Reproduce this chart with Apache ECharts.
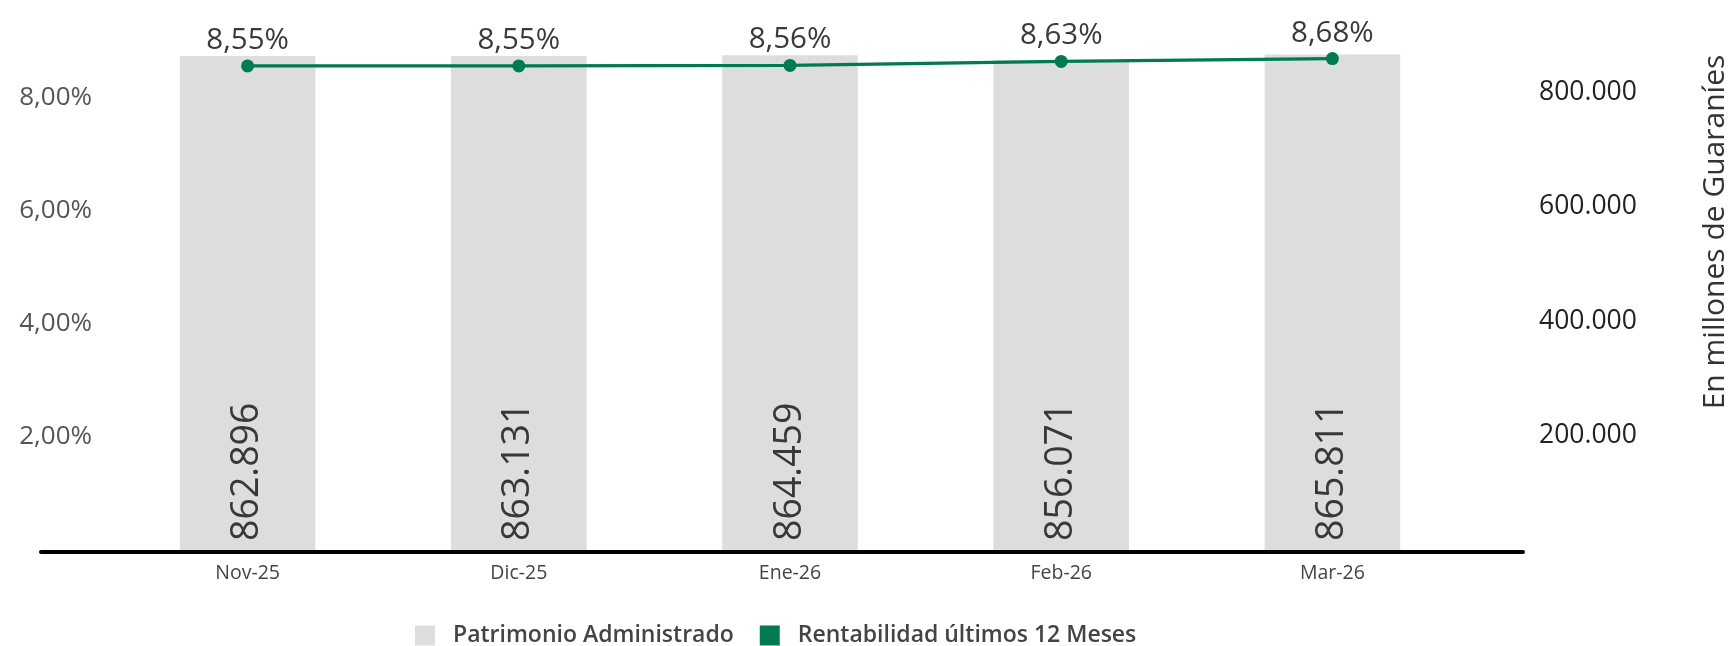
<!DOCTYPE html>
<html>
<head>
<meta charset="utf-8">
<script src="https://cdn.jsdelivr.net/npm/echarts@6/dist/echarts.min.js"></script>
<style>
html,body{margin:0;padding:0;background:#fff;}
#c{width:1732px;height:646px;}
</style>
</head>
<body>
<div id="c"></div>
<script>
const categories = ['Nov-25', 'Dic-25', 'Ene-26', 'Feb-26', 'Mar-26'];
const patrimonio = [862896, 863131, 864459, 856071, 865811];
const rentabilidad = [8.55, 8.55, 8.56, 8.63, 8.68];
const seriesNames = ['Patrimonio Administrado', 'Rentabilidad últimos 12 Meses'];
const rightAxisName = 'En millones de Guaraníes';

const FONT = '"Open Sans", "Noto Sans", sans-serif';
const fmtPct = v => v.toFixed(2).replace('.', ',') + '%';
const fmtThousands = v => Math.round(v).toString().replace(/\B(?=(\d{3})+(?!\d))/g, '.');

const chart = echarts.init(document.getElementById('c'));
chart.setOption({
  animation: false,
  backgroundColor: '#ffffff',
  textStyle: { fontFamily: FONT },
  grid: [
    { left: 112, right: 264, top: 32, bottom: 96 },
    { left: 41, right: 209, top: 32, bottom: 94 }
  ],
  legend: {
    left: 410, top: 619,
    icon: 'rect', itemWidth: 20, itemHeight: 20, itemGap: 26,
    textStyle: { fontFamily: FONT, fontSize: 23, fontWeight: 600, color: '#444', padding: [0, 0, 0, 13] },
    data: seriesNames
  },
  xAxis: [
    {
      type: 'category', gridIndex: 0, data: categories,
      axisLine: { show: false }, axisTick: { show: false },
      axisLabel: { fontFamily: FONT, fontSize: 19.5, color: '#444', margin: 13 }
    },
    {
      type: 'value', gridIndex: 1, min: 0, max: 1,
      axisLine: { show: true, onZero: false, lineStyle: { color: '#000', width: 4 } },
      axisTick: { show: false }, axisLabel: { show: false }, splitLine: { show: false }
    }
  ],
  yAxis: [
    {
      type: 'value', gridIndex: 0, position: 'left', min: 0, max: 9.15, interval: 2,
      axisLine: { show: false }, axisTick: { show: false }, splitLine: { show: false },
      axisLabel: { fontFamily: FONT, fontSize: 26, color: '#555', margin: 20,
        showMinLabel: false, showMaxLabel: false, formatter: fmtPct }
    },
    {
      type: 'value', gridIndex: 0, position: 'right', min: 0, max: 905000, interval: 200000,
      axisLine: { show: false }, axisTick: { show: false }, splitLine: { show: false },
      axisLabel: { fontFamily: FONT, fontSize: 26.5, color: '#222', margin: 71,
        showMinLabel: false, showMaxLabel: false, formatter: fmtThousands }
    },
    {
      type: 'value', gridIndex: 1, min: 0, max: 1, show: false
    }
  ],
  graphic: [{
    type: 'text', x: 1715, y: 232, rotation: Math.PI / 2,
    style: { text: rightAxisName, font: '30px ' + FONT, fill: '#333', textAlign: 'center', textVerticalAlign: 'middle' }
  }],
  series: [
    {
      name: seriesNames[0], type: 'bar', xAxisIndex: 0, yAxisIndex: 1,
      data: patrimonio, barWidth: '50%',
      itemStyle: { color: '#DDDDDD' },
      label: {
        show: true, position: 'insideBottom', rotate: 90, align: 'left', verticalAlign: 'middle',
        distance: 9, fontFamily: FONT, fontSize: 37.5, color: '#383838',
        formatter: p => fmtThousands(p.value)
      }
    },
    {
      name: seriesNames[1], type: 'line', xAxisIndex: 0, yAxisIndex: 0,
      data: rentabilidad, symbol: 'circle', symbolSize: 13,
      lineStyle: { color: '#007A4F', width: 3.2 },
      itemStyle: { color: '#007A4F' },
      label: {
        show: true, position: 'top', distance: 4, fontFamily: FONT, fontSize: 29.5, color: '#3a3a3a',
        formatter: p => fmtPct(p.value)
      }
    }
  ]
});
</script>
</body>
</html>
